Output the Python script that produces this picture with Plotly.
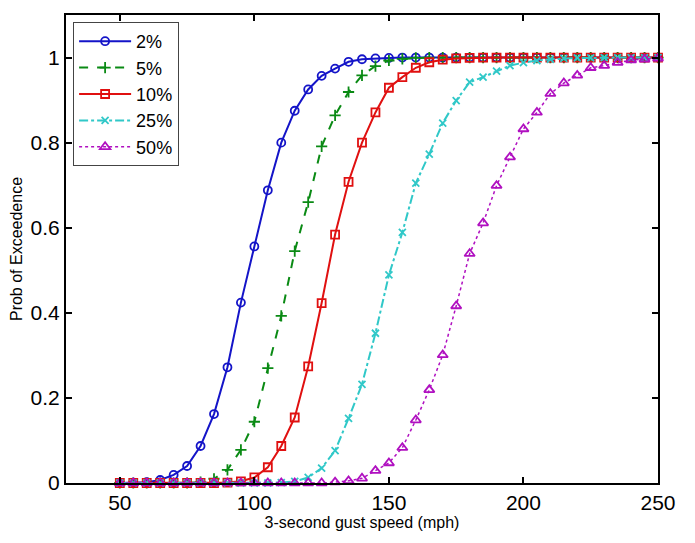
import plotly.graph_objects as go

speed = list(range(50, 255, 5))

p2 = [0, 0.001, 0.002, 0.007, 0.019, 0.04, 0.087, 0.162, 0.272, 0.424,
      0.556, 0.688, 0.80, 0.875, 0.925, 0.957, 0.974, 0.99, 0.996, 0.998,
      0.999, 1, 1, 1, 1, 1, 1, 1, 1, 1,
      1, 1, 1, 1, 1, 1, 1, 1, 1, 1, 1]
p5 = [0, 0, 0, 0, 0, 0, 0.002, 0.01, 0.031, 0.078,
      0.144, 0.27, 0.393, 0.545, 0.66, 0.791, 0.864, 0.919, 0.958, 0.98,
      0.993, 0.997, 0.999, 1, 1, 1, 1, 1, 1, 1,
      1, 1, 1, 1, 1, 1, 1, 1, 1, 1, 1]
p10 = [0, 0, 0, 0, 0, 0, 0, 0, 0.001, 0.004,
       0.013, 0.037, 0.087, 0.154, 0.274, 0.423, 0.584, 0.708, 0.80, 0.871,
       0.929, 0.954, 0.976, 0.989, 0.995, 0.998, 0.999, 1, 1, 1,
       1, 1, 1, 1, 1, 1, 1, 1, 1, 1, 1]
p25 = [0, 0, 0, 0, 0, 0, 0, 0, 0, 0,
       0, 0, 0.001, 0.004, 0.013, 0.035, 0.076, 0.152, 0.232, 0.352,
       0.489, 0.589, 0.705, 0.773, 0.846, 0.899, 0.942, 0.954, 0.968, 0.981,
       0.988, 0.993, 0.996, 0.998, 0.999, 0.999, 1, 1, 1, 1, 1]
p50 = [0, 0, 0, 0, 0, 0, 0, 0, 0, 0,
       0, 0, 0, 0, 0, 0, 0.002, 0.005, 0.011, 0.029,
       0.047, 0.083, 0.148, 0.219, 0.301, 0.416, 0.539, 0.611, 0.699, 0.766,
       0.832, 0.871, 0.915, 0.94, 0.958, 0.976, 0.981, 0.988, 0.994, 0.996, 0.998]

series = [
    ("2%", p2, "#1414C8", "solid", "circle-open", 8, 2),
    ("5%", p5, "#0A8A14", "dash", "cross-thin-open", 8, 2),
    ("10%", p10, "#E01010", "solid", "square-open", 8, 2),
    ("25%", p25, "#30C8C8", "dashdot", "x-thin-open", 7, 2),
    ("50%", p50, "#B010C0", "dot", "triangle-up-open", 9, 1.5),
]

fig = go.Figure()
for name, vals, color, dash, sym, msize, lw in series:
    fig.add_trace(go.Scatter(
        x=speed, y=vals, name=name, mode="lines+markers",
        line=dict(color=color, width=lw, dash=dash),
        marker=dict(symbol=sym, size=msize, color=color,
                    line=dict(color=color, width=1.8)),
        cliponaxis=False,
    ))

# The page body adds an 8px margin, so the figure is 8px smaller and
# its margins are shifted to keep the plot area where the reference has it.
font_family = "Liberation Sans, Arial, Helvetica, sans-serif"
fig.update_layout(
    width=687, height=535, autosize=False,
    margin=dict(l=58, r=37, t=7, b=60),
    paper_bgcolor="white", plot_bgcolor="white",
    font=dict(family=font_family, color="black"),
    showlegend=True,
    legend=dict(x=0.012, y=0.985, xanchor="left", yanchor="top",
                bordercolor="#444444", borderwidth=1, bgcolor="white",
                font=dict(size=18, family=font_family),
                itemwidth=52, tracegroupgap=0),
    xaxis=dict(range=[30, 250], tickvals=[50, 100, 150, 200, 250],
               ticks="inside", ticklen=6, tickwidth=2, tickcolor="black",
               showline=True, linecolor="black", linewidth=2, mirror="ticks",
               showgrid=False, zeroline=False, automargin=False,
               tickfont=dict(size=21),
               title=dict(text="3-second gust speed (mph)", font=dict(size=16), standoff=4)),
    yaxis=dict(range=[0, 1.1], tickvals=[0, 0.2, 0.4, 0.6, 0.8, 1],
               ticktext=["0", "0.2", "0.4", "0.6", "0.8", "1"],
               ticks="inside", ticklen=6, tickwidth=2, tickcolor="black",
               showline=True, linecolor="black", linewidth=2, mirror="ticks",
               showgrid=False, zeroline=False, automargin=False,
               tickfont=dict(size=21),
               title=dict(text="Prob of Exceedence", font=dict(size=16), standoff=4)),
)

fig.write_html("out.html")
